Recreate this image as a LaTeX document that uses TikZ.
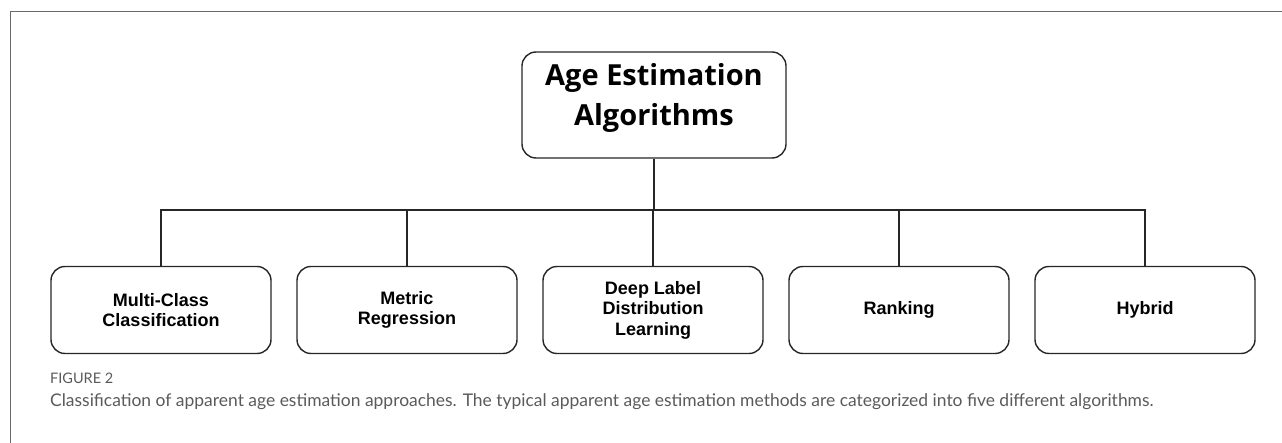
\documentclass[tikz,border=0pt]{standalone}
\usepackage{fontspec}
\setmainfont{Liberation Sans}
\newfontfamily\headfont{Open Sans}
\newfontfamily\captfont{Lato}
\usetikzlibrary{positioning}
\definecolor{framegray}{RGB}{105,105,105}
\definecolor{captgray}{RGB}{90,90,90}

\begin{document}
\begin{tikzpicture}[x=1pt,y=-1pt,
    boxline/.style={draw=black!85, line width=1.4pt, rounded corners=14pt, align=center, inner sep=0pt},
    rootbox/.style={boxline, minimum width=264pt, minimum height=106pt, text depth=22pt,
        font=\headfont\bfseries\fontsize{29}{40}\selectfont},
    algbox/.style={boxline, minimum width=220pt, minimum height=87pt,
        font=\bfseries\fontsize{18}{20.5}\selectfont},
    branch/.style={draw=black!85, line width=1.3pt}]
    \useasboundingbox (0,0) rectangle (1282,443);
    \draw[framegray, line width=1pt] (1290,12) -- (10,12) -- (10,450);
    \node[rootbox] (root) at (654,105) {Age Estimation\\Algorithms};
    \coordinate (hub) at (654,210);
    \node[algbox] (alg1) at (161,310) {Multi-Class\\Classification};
    \node[algbox] (alg2) at (407,310) {Metric\\Regression};
    \node[algbox] (alg3) at (653,310) {Deep Label\\Distribution\\Learning};
    \node[algbox] (alg4) at (899,310) {Ranking};
    \node[algbox] (alg5) at (1145,310) {Hybrid};
    \path[branch] (root.south) -- (hub);
    \foreach \i in {1,...,5} {
        \path[branch] (hub) -| (alg\i.north);
    }
    \node[anchor=west, text=captgray, font=\captfont\fontsize{14.5}{16}\selectfont, inner sep=0pt] (fig) at (50,378) {FIGURE 2};
    \node[anchor=west, text=captgray, font=\captfont\fontsize{17.45}{20}\selectfont, inner sep=0pt] (capt) at (50,402)
        {Classification of apparent age estimation approaches. The typical apparent age estimation methods are categorized into five different algorithms.};
\end{tikzpicture}
\end{document}
